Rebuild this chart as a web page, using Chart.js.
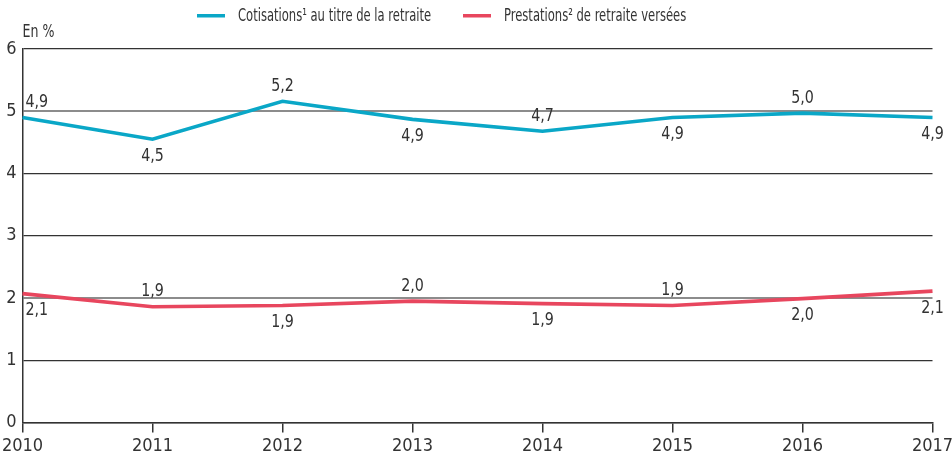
<!DOCTYPE html>
<html>
<head>
<meta charset="utf-8">
<script src="https://cdn.jsdelivr.net/npm/chart.js@4/dist/chart.umd.min.js"></script>
<style>
  html, body { margin: 0; padding: 0; background: #fff; }
  #wrap { width: 952px; height: 457px; }
</style>
</head>
<body>
<div id="wrap"><canvas id="chart"></canvas></div>
<script>
// data
const years = ['2010', '2011', '2012', '2013', '2014', '2015', '2016', '2017'];
const cotisations = [4.90, 4.55, 5.16, 4.87, 4.68, 4.90, 4.97, 4.90];
const prestations = [2.07, 1.86, 1.88, 1.95, 1.91, 1.88, 1.99, 2.11];
const cotisLabels = ['4,9', '4,5', '5,2', '4,9', '4,7', '4,9', '5,0', '4,9'];
const prestLabels = ['2,1', '1,9', '1,9', '2,0', '1,9', '1,9', '2,0', '2,1'];
// label side: 1 = above the point, -1 = below
const cotisSide = [1, -1, 1, -1, 1, -1, 1, -1];
const prestSide = [-1, 1, -1, 1, -1, 1, -1, -1];
const yTicks = [0, 1, 2, 3, 4, 5, 6];
const seriesNames = ['Cotisations\u00b9 au titre de la retraite', 'Prestations\u00b2 de retraite vers\u00e9es'];

const FONT = '"DejaVu Sans Condensed", "Liberation Sans Narrow", sans-serif';
const TXT = '#333333';
const BLUE = '#0aa7c7';
const RED = '#e8465e';

// text drawn a bit narrower, the original uses a condensed face
function squeezed(ctx, t, x, y, sx) {
  ctx.save();
  ctx.translate(x, y);
  ctx.scale(sx, 1);
  ctx.fillText(t, 0, 0);
  ctx.restore();
}

// value labels, legend and the "En %" note
const labelPlugin = {
  id: 'valueLabels',
  afterDatasetsDraw(chart) {
    const ctx = chart.ctx;
    const sets = [[cotisLabels, cotisSide], [prestLabels, prestSide]];
    ctx.save();
    ctx.font = '18px ' + FONT;
    ctx.fillStyle = TXT;
    ctx.textBaseline = 'middle';
    sets.forEach((s, di) => {
      const meta = chart.getDatasetMeta(di);
      meta.data.forEach((pt, i) => {
        let x = pt.x;
        ctx.textAlign = 'center';
        if (i == 0) { ctx.textAlign = 'left'; x = pt.x + 3; }
        const y = pt.y + (s[1][i] > 0 ? -15 : 17);
        squeezed(ctx, s[0][i], x, y, 0.88);
      });
    });

    // legend
    ctx.font = '17.5px ' + FONT;
    ctx.textAlign = 'left';
    const cols = [BLUE, RED];
    const lx = [197, 463];
    cols.forEach((c, i) => {
      ctx.fillStyle = c;
      ctx.fillRect(lx[i], 14, 28, 3.5);
      ctx.fillStyle = TXT;
      squeezed(ctx, seriesNames[i], lx[i] + 41, 16, 0.735);
    });

    ctx.font = '17.5px ' + FONT;
    squeezed(ctx, 'En %', chart.chartArea.left, 32, 0.8);
    ctx.restore();
  }
};

new Chart(document.getElementById('chart'), {
  type: 'line',
  data: {
    labels: years,
    datasets: [
      {
        label: seriesNames[0],
        data: cotisations,
        borderColor: BLUE,
        backgroundColor: BLUE,
        borderWidth: 3.6,
        pointRadius: 0,
        tension: 0
      },
      {
        label: seriesNames[1],
        data: prestations,
        borderColor: RED,
        backgroundColor: RED,
        borderWidth: 3.6,
        pointRadius: 0,
        tension: 0
      }
    ]
  },
  options: {
    responsive: true,
    maintainAspectRatio: false,
    animation: false,
    layout: { padding: { left: 0, right: 19.5, top: 49, bottom: 0 } },
    plugins: {
      tooltip: { enabled: false },
      legend: { display: false }
    },
    scales: {
      x: {
        offset: false,
        grid: {
          display: true,
          drawOnChartArea: false,
          drawTicks: true,
          tickLength: 10,
          color: '#333333',
          lineWidth: 1.5
        },
        border: { display: true, color: '#333333', width: 1.5 },
        ticks: {
          color: TXT,
          font: { family: FONT, size: 18 },
          padding: 3,
          maxRotation: 0,
          autoSkip: false
        },
        afterFit(scale) {
          scale.height = 34.5;
          scale.paddingLeft = 0;
          scale.paddingRight = 0;
        }
      },
      y: {
        min: 0,
        max: 6,
        afterBuildTicks(scale) { scale.ticks = yTicks.map(v => ({ value: v })); },
        grid: {
          drawTicks: false,
          color: ctx => (ctx.tick && (ctx.tick.value == 2 || ctx.tick.value == 5)) ? '#8c8c8c' : '#333333',
          lineWidth: ctx => (ctx.tick && (ctx.tick.value == 2 || ctx.tick.value == 5)) ? 2 : 1.2
        },
        border: { display: true, color: '#333333', width: 1.5 },
        ticks: {
          color: TXT,
          font: { family: FONT, size: 18 },
          padding: 6
        },
        afterFit(scale) {
          scale.width = 22.5;
          scale.paddingTop = 0;
          scale.paddingBottom = 0;
        }
      }
    }
  },
  plugins: [labelPlugin]
});
</script>
</body>
</html>
